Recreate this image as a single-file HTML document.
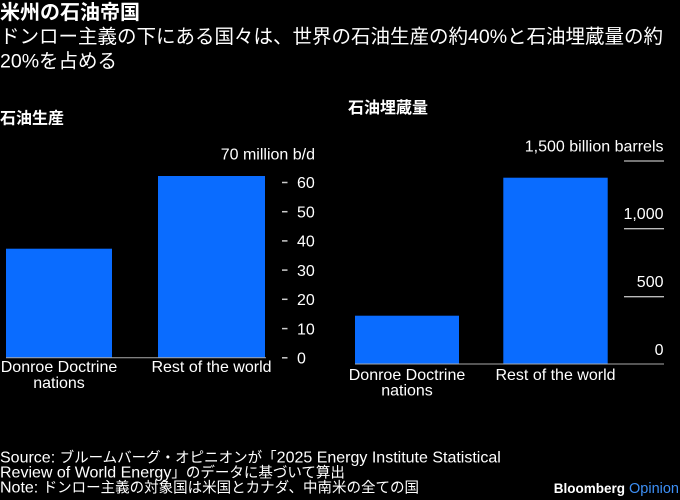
<!DOCTYPE html>
<html>
<head>
<meta charset="utf-8">
<style>
  html, body { margin:0; padding:0; background:#000; }
  body { width:680px; height:500px; overflow:hidden; }
  svg { display:block; }
  text { font-family: "Liberation Sans", "Noto Sans CJK JP", sans-serif; fill:#fff; }
</style>
</head>
<body>
<svg width="680" height="500" viewBox="0 0 680 500" xmlns="http://www.w3.org/2000/svg">
  <rect x="0" y="0" width="680" height="500" fill="#000"/>

  <!-- Title & subtitle -->
  <text x="0" y="19.1" font-size="20" font-weight="bold">米州の石油帝国</text>
  <text x="0" y="42.9" font-size="19.5">ドンロー主義の下にある国々は、世界の石油生産の約40%と石油埋蔵量の約</text>
  <text x="0" y="67.4" font-size="19.5">20%を占める</text>

  <!-- Panel titles -->
  <text x="0" y="123.6" font-size="16" font-weight="bold">石油生産</text>
  <text x="348" y="112.8" font-size="16" font-weight="bold">石油埋蔵量</text>

  <!-- LEFT CHART -->
  <text x="315" y="159.5" font-size="16" text-anchor="end">70 million b/d</text>
  <g stroke="#cccccc" stroke-width="1.5">
    <line x1="282" y1="182.5" x2="287.5" y2="182.5"/>
    <line x1="282" y1="211.7" x2="287.5" y2="211.7"/>
    <line x1="282" y1="240.9" x2="287.5" y2="240.9"/>
    <line x1="282" y1="270.1" x2="287.5" y2="270.1"/>
    <line x1="282" y1="299.3" x2="287.5" y2="299.3"/>
    <line x1="282" y1="328.6" x2="287.5" y2="328.6"/>
    <line x1="282" y1="357.8" x2="287.5" y2="357.8"/>
  </g>
  <g font-size="16">
    <text x="297" y="188.2">60</text>
    <text x="297" y="217.4">50</text>
    <text x="297" y="246.6">40</text>
    <text x="297" y="275.8">30</text>
    <text x="297" y="305.0">20</text>
    <text x="297" y="334.3">10</text>
    <text x="297" y="363.5">0</text>
  </g>
  <rect x="6" y="248.7" width="106" height="109.1" fill="#0a6cff"/>
  <rect x="158" y="176" width="107" height="181.8" fill="#0a6cff"/>
  <line x1="6" y1="357.8" x2="266" y2="357.8" stroke="#aaaaaa" stroke-width="1"/>
  <g font-size="16" text-anchor="middle">
    <text x="59" y="372">Donroe Doctrine</text>
    <text x="59" y="388">nations</text>
    <text x="211.5" y="372">Rest of the world</text>
  </g>

  <!-- RIGHT CHART -->
  <g stroke="#bbbbbb" stroke-width="1.3">
    <line x1="624" y1="161" x2="664" y2="161"/>
    <line x1="624" y1="228.7" x2="664" y2="228.7"/>
    <line x1="624" y1="296.7" x2="664" y2="296.7"/>
  </g>
  <g font-size="16" text-anchor="end">
    <text x="663.5" y="151.5">1,500 billion barrels</text>
    <text x="663.5" y="219">1,000</text>
    <text x="663.5" y="287">500</text>
    <text x="663.5" y="355">0</text>
  </g>
  <rect x="355" y="315.7" width="104" height="48.3" fill="#0a6cff"/>
  <rect x="503.3" y="177.7" width="104.4" height="186.3" fill="#0a6cff"/>
  <line x1="355" y1="364" x2="664" y2="364" stroke="#aaaaaa" stroke-width="1"/>
  <g font-size="16" text-anchor="middle">
    <text x="407" y="380">Donroe Doctrine</text>
    <text x="407" y="395.5">nations</text>
    <text x="555.5" y="380">Rest of the world</text>
  </g>

  <!-- Footer -->
  <text x="0" y="462.5"><tspan font-size="16">Source: </tspan><tspan font-size="14.5">ブルームバーグ・オピニオンが「</tspan><tspan font-size="16">2025 Energy Institute Statistical</tspan></text>
  <text x="0" y="477.5"><tspan font-size="16">Review of World Energy</tspan><tspan font-size="14.5">」のデータに基づいて算出</tspan></text>
  <text x="0" y="492.5"><tspan font-size="16">Note: </tspan><tspan font-size="14.5">ドンロー主義の対象国は米国とカナダ、中南米の全ての国</tspan></text>

  <text x="679" y="493" text-anchor="end"><tspan font-size="13.5" font-weight="bold">Bloomberg</tspan><tspan font-size="14.5" fill="#3d8ff5"> Opinion</tspan></text>
</svg>
</body>
</html>
